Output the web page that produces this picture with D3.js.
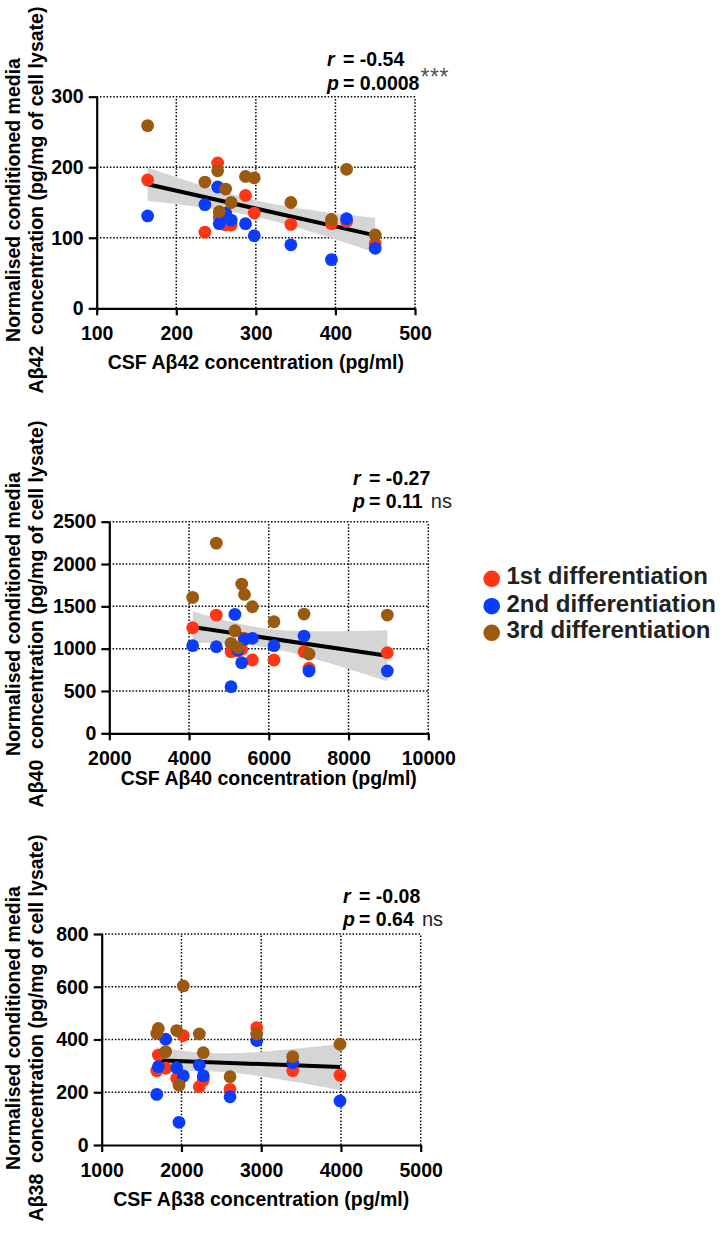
<!DOCTYPE html>
<html><head><meta charset="utf-8">
<script src="https://cdn.jsdelivr.net/npm/d3@7"></script>
<style>
body{margin:0;background:#fff}
text{font-family:"Liberation Sans",Arial,Helvetica,sans-serif}
</style>
</head><body>
<svg id="c" width="720" height="1234"></svg>
<script>
// ---------- DATA ----------
const seriesNames = ["1st differentiation", "2nd differentiation", "3rd differentiation"];
const seriesColors = ["#ff3514", "#0a3cff", "#9b5a0e"];

// Panel 1: Aβ42
const p1X     = [164, 236, 252, 254, 262, 269, 287, 298, 344, 395, 414, 450];
const p1Red   = [182, 108, 206, 129, 118, 118, 160, 135, 119, 120, 123, 92];
const p1Blue  = [131, 147, 172, 120, 135, 125, 120, 103, 90, 69, 127, 85];
const p1Brown = [259, 179, 195, 137, 169, 150, 187, 185, 150, 126, 197, 104];
const p1XTicks = [100, 200, 300, 400, 500];
const p1YTicks = [0, 100, 200, 300];

// Panel 2: Aβ40
const p2X     = [4091, 4684, 5052, 5150, 5220, 5320, 5390, 5587, 6130, 6883, 7008, 8972];
const p2Red   = [1247, 1397, 964, 1000, 975, 992, 1120, 866, 866, 964, 768, 952];
const p2Blue  = [1035, 1023, 551, 1405, 984, 834, 1110, 1122, 1035, 1149, 736, 736];
const p2Brown = [1606, 2247, 1063, 1212, 1011, 1763, 1641, 1495, 1318, 1409, 937, 1397];
const p2XTicks = [2000, 4000, 6000, 8000, 10000];
const p2YTicks = [0, 500, 1000, 1500, 2000, 2500];

// Panel 3: Aβ38
const p3X     = [1690, 1710, 1802, 1940, 1969, 2023, 2224, 2274, 2609, 2944, 3395, 3988];
const p3Red   = [282, 341, 291, 253, 240, 415, 221, 246, 211, 445, 282, 265];
const p3Blue  = [192, 297, 401, 293, 86, 262, 303, 262, 183, 396, 312, 167];
const p3Brown = [423, 442, 354, 434, 227, 603, 421, 350, 259, 421, 335, 382];
const p3XTicks = [1000, 2000, 3000, 4000, 5000];
const p3YTicks = [0, 200, 400, 600, 800];

const statR = ["-0.54", "-0.27", "-0.08"];
const statP = ["0.0008", "0.11", "0.64"];
const statSig = ["***", "ns", "ns"];
const analytes = ["Aβ42", "Aβ40", "Aβ38"];

// ---------- LAYOUT ----------
const panels = [
  {x: p1X, ys: [p1Red, p1Blue, p1Brown], xt: p1XTicks, yt: p1YTicks,
   xr: [96.7, 415], yr: [308.3, 96.7], xLabOff: 61, yLabC: 200,
   statX: 327, eqX: 343, statY: [65.5, 90]},
  {x: p2X, ys: [p2Red, p2Blue, p2Brown], xt: p2XTicks, yt: p2YTicks,
   xr: [109.3, 428.3], yr: [733.3, 521.7], xLabOff: 51.7, yLabC: 614,
   statX: 353, eqX: 369, statY: [485, 508]},
  {x: p3X, ys: [p3Red, p3Blue, p3Brown], xt: p3XTicks, yt: p3YTicks,
   xr: [101.7, 420.7], yr: [1145, 934], xLabOff: 61, yLabC: 1028,
   statX: 343, eqX: 359, statY: [902.5, 926]}
];

const svg = d3.select("#c");
const FS = 19.5;

panels.forEach((P, i) => {
  const g = svg.append("g");
  const x = d3.scaleLinear().domain(d3.extent(P.xt)).range(P.xr);
  const y = d3.scaleLinear().domain(d3.extent(P.yt)).range(P.yr);

  // grid
  const grid = g.append("g").attr("stroke", "#000").attr("stroke-width", 1.5)
    .attr("stroke-dasharray", "1.5,1.8");
  grid.selectAll(".gx").data(P.xt.slice(1)).join("line")
    .attr("x1", d => x(d)).attr("x2", d => x(d))
    .attr("y1", P.yr[0]).attr("y2", P.yr[1]);
  grid.selectAll(".gy").data(P.yt.slice(1)).join("line")
    .attr("y1", d => y(d)).attr("y2", d => y(d))
    .attr("x1", P.xr[0]).attr("x2", P.xr[1]);

  // regression from all points
  const pts = [];
  P.ys.forEach(arr => arr.forEach((v, k) => pts.push([P.x[k], v])));
  const n = pts.length;
  const mx = d3.mean(pts, d => d[0]), my = d3.mean(pts, d => d[1]);
  const sxx = d3.sum(pts, d => (d[0] - mx) ** 2);
  const sxy = d3.sum(pts, d => (d[0] - mx) * (d[1] - my));
  const b = sxy / sxx, a = my - b * mx;
  const sse = d3.sum(pts, d => (d[1] - (a + b * d[0])) ** 2);
  const s = Math.sqrt(sse / (n - 2));
  const tcrit = 2.032;
  const [x0, x1] = d3.extent(P.x);
  const xs = d3.range(0, 61).map(k => x0 + (x1 - x0) * k / 60);
  const band = xs.map(xv => {
    const yh = a + b * xv;
    const h = tcrit * s * Math.sqrt(1 / n + (xv - mx) ** 2 / sxx);
    return {x: xv, lo: yh - h, hi: yh + h};
  });
  g.append("path").datum(band)
    .attr("fill", "#d5d5d5")
    .attr("d", d3.area().x(d => x(d.x)).y0(d => y(d.lo)).y1(d => y(d.hi)));
  g.append("line")
    .attr("x1", x(x0)).attr("x2", x(x1))
    .attr("y1", y(a + b * x0)).attr("y2", y(a + b * x1))
    .attr("stroke", "#000").attr("stroke-width", 4);

  // axes
  const ax = g.append("g").attr("transform", `translate(0,${P.yr[0]})`)
    .call(d3.axisBottom(x).tickValues(P.xt).tickSize(7).tickSizeOuter(0).tickFormat(d3.format("d")));
  const ay = g.append("g").attr("transform", `translate(${P.xr[0]},0)`)
    .call(d3.axisLeft(y).tickValues(P.yt).tickSize(8).tickSizeOuter(0).tickPadding(5).tickFormat(d3.format("d")));
  [ax, ay].forEach(A => {
    A.select(".domain").attr("stroke", "#000").attr("stroke-width", 2.2);
    A.selectAll(".tick line").attr("stroke", "#000").attr("stroke-width", 2.2);
    A.selectAll(".tick text").attr("fill", "#000").attr("font-size", FS)
      .attr("font-weight", "bold").attr("font-family", null);
  });
  ax.selectAll(".tick text").attr("dy", null).attr("y", 31.5);

  // points: red, blue, brown order
  P.ys.forEach((arr, si) => {
    g.append("g").selectAll("circle").data(arr).join("circle")
      .attr("cx", (d, k) => x(P.x[k])).attr("cy", d => y(d))
      .attr("r", 6.4).attr("fill", seriesColors[si]);
  });

  // x label
  g.append("text")
    .attr("x", (P.xr[0] + P.xr[1]) / 2).attr("y", P.yr[0] + P.xLabOff)
    .attr("text-anchor", "middle").attr("font-size", FS).attr("font-weight", "bold")
    .text(`CSF ${analytes[i]} concentration (pg/ml)`);

  // y label (two lines)
  g.append("text")
    .attr("transform", `translate(20,${P.yLabC}) rotate(-90)`)
    .attr("text-anchor", "middle").attr("font-size", FS).attr("font-weight", "bold")
    .text("Normalised conditioned media");
  g.append("text")
    .attr("transform", `translate(43,${P.yLabC}) rotate(-90)`)
    .attr("text-anchor", "middle").attr("font-size", FS).attr("font-weight", "bold")
    .style("white-space", "pre")
    .text(`${analytes[i]}  concentration (pg/mg of cell lysate)`);

  // stats
  const t1 = g.append("text").attr("x", P.statX).attr("y", P.statY[0])
    .attr("font-size", FS).attr("font-weight", "bold");
  t1.append("tspan").attr("font-style", "italic").text("r");
  t1.append("tspan").attr("x", P.eqX).text(`= ${statR[i]}`);
  const t2 = g.append("text").attr("x", P.statX).attr("y", P.statY[1])
    .attr("font-size", FS).attr("font-weight", "bold");
  t2.append("tspan").attr("font-style", "italic").text("p");
  t2.append("tspan").attr("x", P.eqX).text(`= ${statP[i]}`);
  const bb = t2.node().getBBox();
  const endX = bb.x + bb.width;
  if (statSig[i] === "***") {
    g.append("text").attr("x", endX + 1).attr("y", P.statY[1] - 5)
      .attr("font-size", 23).attr("fill", "#555").attr("letter-spacing", 0.5)
      .text(statSig[i]);
  } else {
    g.append("text").attr("x", endX + 8).attr("y", P.statY[1])
      .attr("font-size", 20).attr("fill", "#222").text(statSig[i]);
  }
});

// legend
const lg = svg.append("g");
const legY = [584.3, 611.7, 638.3];
seriesNames.forEach((nm, i) => {
  lg.append("circle").attr("cx", 491.7).attr("cy", legY[i] - 5.5).attr("r", 8.3)
    .attr("fill", seriesColors[i]);
  lg.append("text").attr("x", 506.5).attr("y", legY[i]).attr("font-size", 24)
    .attr("font-weight", "bold").attr("fill", "#222").text(nm);
});
</script>
</body></html>
